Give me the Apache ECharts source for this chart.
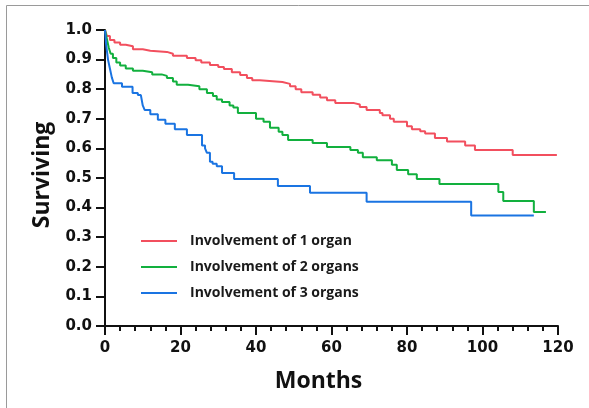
<!DOCTYPE html>
<html>
<head>
<meta charset="utf-8">
<script src="https://cdn.jsdelivr.net/npm/echarts@6/dist/echarts.min.js"></script>
<style>html,body{margin:0;padding:0;background:#fff}#c{width:589px;height:408px}</style>
</head>
<body>
<div id="c"></div>
<script>
var seriesNames = ['Involvement of 1 organ', 'Involvement of 2 organs', 'Involvement of 3 organs'];
var xTicks = [0, 20, 40, 60, 80, 100, 120];
var yTicks = [0, 0.1, 0.2, 0.3, 0.4, 0.5, 0.6, 0.7, 0.8, 0.9, 1.0];

var red = [[0,1],[0.5,0.98],[1.3,0.966],[2.5,0.958],[4,0.95],[5.5,0.945],[7.4,0.935],[10,0.93],[12,0.926],[16.4,0.92],[18,0.913],[21.7,0.905],[24,0.898],[25.5,0.89],[27.8,0.882],[30,0.875],[31.5,0.868],[33.6,0.857],[35.8,0.848],[37.6,0.838],[39,0.83],[41,0.824],[47,0.818],[49,0.81],[50.5,0.8],[52,0.79],[55,0.781],[57,0.772],[58.8,0.763],[61,0.753],[66,0.748],[67.5,0.74],[69.3,0.73],[72.8,0.72],[73.5,0.712],[75.5,0.7],[76.5,0.69],[80,0.675],[81.3,0.665],[83.5,0.658],[84.8,0.65],[87.4,0.635],[90.6,0.623],[95.4,0.61],[98,0.595],[108,0.578],[119.7,0.578]];

var green = [[0,1],[0.5,0.97],[1,0.94],[1.5,0.92],[2.1,0.905],[3,0.89],[4,0.88],[5.5,0.87],[7.4,0.862],[10,0.857],[12.5,0.85],[15,0.845],[16.4,0.838],[18,0.826],[19,0.815],[22,0.81],[25,0.8],[27,0.787],[28.6,0.777],[29.6,0.765],[31,0.757],[33,0.745],[34,0.738],[35.2,0.72],[40,0.7],[42,0.69],[43.7,0.67],[46,0.656],[47,0.645],[48.5,0.628],[55,0.618],[58.8,0.605],[65,0.595],[67,0.585],[68.3,0.57],[72,0.56],[76,0.545],[77.3,0.527],[80.3,0.513],[82.6,0.497],[88.6,0.48],[104.2,0.453],[105.5,0.422],[113.6,0.385],[116.8,0.385]];

var blue = [[0,1],[0.3,0.95],[0.8,0.9],[1.3,0.87],[1.8,0.84],[2.3,0.82],[4.5,0.808],[7.3,0.787],[8.7,0.78],[9.5,0.775],[10,0.745],[10.5,0.73],[12,0.715],[14,0.697],[16,0.683],[18.5,0.665],[21.7,0.645],[25.7,0.61],[26.5,0.6],[27,0.585],[27.8,0.555],[28.5,0.548],[29.6,0.54],[31,0.517],[34.2,0.497],[45.8,0.473],[54.3,0.45],[69.3,0.42],[97,0.373],[113.6,0.373]];

var colors = ['#F24F5E', '#12B03E', '#1A74E2'];
var dataSets = [red, green, blue];
var font = '"Open Sans", "Noto Sans", sans-serif';
var numFont = '"DejaVu Sans", "Open Sans", sans-serif';

var chart = echarts.init(document.getElementById('c'), null, {renderer: 'canvas'});

var series = seriesNames.map(function (n, i) {
  return {
    name: n, type: 'line', step: 'end', data: dataSets[i],
    showSymbol: false, symbol: 'none', animation: false,
    lineStyle: {color: colors[i], width: 2}, itemStyle: {color: colors[i]}
  };
});

var legends = seriesNames.map(function (n, i) {
  return {
    data: [n], left: 141, top: 234 + i * 26, padding: 0, itemWidth: 36, itemHeight: 2,
    icon: 'rect', selectedMode: false,
    textStyle: {fontFamily: font, fontWeight: 'bold', fontSize: 14, color: '#1a1a1a', padding: [0, 0, 0, 8]}
  };
});

chart.setOption({
  backgroundColor: '#fff',
  animation: false,
  color: colors,
  graphic: [{
    type: 'rect', shape: {x: 6.5, y: 5.5, width: 700, height: 500},
    style: {fill: 'none', stroke: '#9a9a9a', lineWidth: 1}, silent: true
  }],
  grid: {left: 105, top: 30, right: 31, bottom: 82, containLabel: false},
  legend: legends,
  xAxis: {
    type: 'value', min: xTicks[0], max: xTicks[xTicks.length - 1], interval: 20,
    name: 'Months', nameLocation: 'middle', nameGap: 44,
    nameTextStyle: {fontFamily: font, fontWeight: 'bold', fontSize: 23, color: '#111', padding: [0, 26, 0, 0]},
    axisLine: {show: true, lineStyle: {color: '#111', width: 2}},
    axisTick: {show: true, inside: false, length: 9, lineStyle: {color: '#111', width: 2}},
    minorTick: {show: true, splitNumber: 5, length: 5, lineStyle: {color: '#111', width: 2}},
    axisLabel: {fontFamily: numFont, fontWeight: 'bold', fontSize: 15, color: '#111', margin: 15},
    splitLine: {show: false}
  },
  yAxis: {
    type: 'value', min: yTicks[0], max: yTicks[yTicks.length - 1], interval: 0.1,
    name: 'Surviving', nameLocation: 'middle', nameGap: 51,
    nameTextStyle: {fontFamily: font, fontWeight: 'bold', fontSize: 23, color: '#111', padding: [0, 0, 0, 6]},
    axisLine: {show: true, lineStyle: {color: '#111', width: 2}},
    axisTick: {show: true, inside: false, length: 9, lineStyle: {color: '#111', width: 2}},
    axisLabel: {fontFamily: numFont, fontWeight: 'bold', fontSize: 15, color: '#111', margin: 13,
      formatter: function (v) { return v.toFixed(1); }},
    splitLine: {show: false}
  },
  series: series
});
</script>
</body>
</html>
